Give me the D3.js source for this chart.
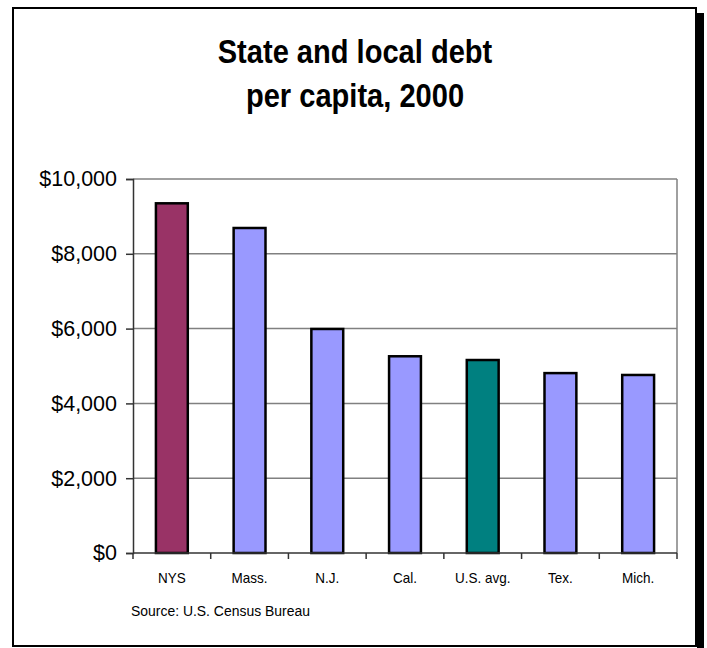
<!DOCTYPE html>
<html>
<head>
<meta charset="utf-8">
<script src="https://cdn.jsdelivr.net/npm/d3@7"></script>
<style>
	body { margin: 0; background: #fff; }
	svg { display: block; }
	.title { font-family: "Liberation Sans", Arial, sans-serif; font-weight: bold; font-size: 34px; text-anchor: middle; }
	.ylab { font-family: "Liberation Sans", Arial, sans-serif; font-size: 21.5px; }
	.xlab { font-family: "Liberation Sans", Arial, sans-serif; font-size: 15px; }
</style>
</head>
<body>
<svg id="chart" width="707" height="648"></svg>
<script>
var categories = ['NYS', 'Mass.', 'N.J.', 'Cal.', 'U.S. avg.', 'Tex.', 'Mich.']
var debt = [9350, 8690, 5990, 5260, 5160, 4810, 4760]
var bar_colors = ['#993366', '#9999ff', '#9999ff', '#9999ff', '#008080', '#9999ff', '#9999ff']
var y_ticks = [0, 2000, 4000, 6000, 8000, 10000]
var title_lines = ['State and local debt', 'per capita, 2000']
var source_note = 'Source: U.S. Census Bureau'

var svg = d3.select('#chart')
var plot = {left: 133, right: 677, top: 179, bottom: 553}

//outer frame with drop shadow on the right
svg.append('rect').attr('x', 697).attr('y', 13).attr('width', 7).attr('height', 640).attr('fill', '#000')
svg.append('rect').attr('x', 13).attr('y', 8).attr('width', 683).attr('height', 638)
	.attr('fill', '#fff').attr('stroke', '#000').attr('stroke-width', 2)

//condensed title: squeeze horizontally around the centre
svg.selectAll('.title').data(title_lines).enter().append('text')
	.attr('class', 'title')
	.attr('transform', function(d, i){ return 'translate(355,' + (63 + i * 44) + ') scale(0.855,1)' })
	.text(function(d){ return d })

var x = d3.scaleBand().domain(categories).range([plot.left, plot.right]).paddingInner(0.59).paddingOuter(0.295)
var y = d3.scaleLinear().domain([0, 10000]).range([plot.bottom, plot.top])

//grid lines
svg.selectAll('.grid').data(y_ticks.filter(function(d){ return d > 0 })).enter().append('line')
	.attr('x1', plot.left).attr('x2', plot.right)
	.attr('y1', function(d){ return y(d) }).attr('y2', function(d){ return y(d) })
	.attr('stroke', '#808080').attr('stroke-width', 1.5)
svg.append('line')
	.attr('x1', plot.right).attr('x2', plot.right)
	.attr('y1', plot.top).attr('y2', plot.bottom)
	.attr('stroke', '#808080').attr('stroke-width', 1.5)

//bars
svg.selectAll('.bar').data(debt).enter().append('rect')
	.attr('x', function(d, i){ return x(categories[i]) })
	.attr('y', function(d){ return y(d) })
	.attr('width', x.bandwidth())
	.attr('height', function(d){ return y(0) - y(d) })
	.attr('fill', function(d, i){ return bar_colors[i] })
	.attr('stroke', '#000').attr('stroke-width', 2.5)

//y axis
var yAxis = svg.append('g').attr('transform', 'translate(' + plot.left + ',0)')
	.call(d3.axisLeft(y).tickValues(y_ticks).tickSize(7).tickPadding(9)
		.tickFormat(function(d){ return '$' + d3.format(',')(d) }))
yAxis.select('.domain').attr('stroke', '#333').attr('stroke-width', 1.5)
yAxis.selectAll('.tick line').attr('stroke', '#333').attr('stroke-width', 1.5)
yAxis.selectAll('text').attr('class', 'ylab').attr('fill', '#000').attr('font-family', null).attr('font-size', null)

//x axis with ticks between categories
var xAxis = svg.append('g').attr('transform', 'translate(0,' + plot.bottom + ')')
xAxis.append('line').attr('x1', plot.left).attr('x2', plot.right)
	.attr('stroke', '#333').attr('stroke-width', 1.5)
xAxis.selectAll('.xtick').data(d3.range(categories.length + 1)).enter().append('line')
	.attr('x1', function(i){ return plot.left + i * (plot.right - plot.left) / categories.length })
	.attr('x2', function(i){ return plot.left + i * (plot.right - plot.left) / categories.length })
	.attr('y1', 0).attr('y2', 6)
	.attr('stroke', '#333').attr('stroke-width', 1.5)
xAxis.selectAll('.xlab').data(categories).enter().append('text')
	.attr('class', 'xlab')
	.attr('text-anchor', 'middle')
	.attr('transform', function(d){ return 'translate(' + (x(d) + x.bandwidth() / 2) + ',30) scale(0.9,1)' })
	.text(function(d){ return d })

svg.append('text').attr('class', 'xlab')
	.attr('transform', 'translate(131,616) scale(0.93,1)')
	.style('font-size', '15px')
	.text(source_note)
</script>
</body>
</html>
